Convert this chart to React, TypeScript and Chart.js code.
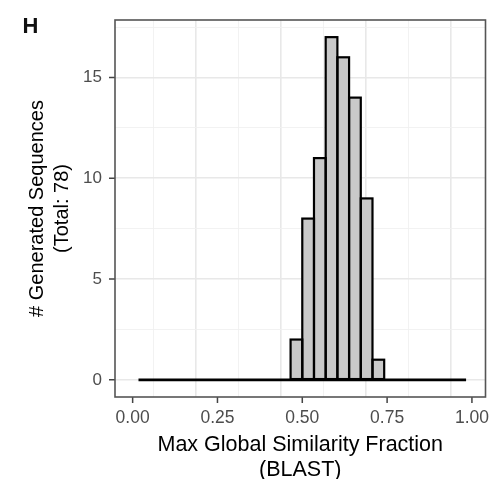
import React, { useEffect, useRef } from "react";
import { Chart, registerables } from "chart.js";

Chart.register(...registerables);

// Histogram bins (centres of the bins) and counts
const binCenters = [0.48276, 0.51724, 0.55172, 0.58621, 0.62069, 0.65517, 0.68966, 0.72414];
const binCounts = [2, 8, 11, 17, 16, 14, 9, 1];
// empty bins drawn as a flat line at zero
const zeroLineX = [0.01724, 0.98276];
const zeroLineY = [0, 0];

const xTickValues = [0, 0.25, 0.5, 0.75, 1];
const xTickLabels = ["0.00", "0.25", "0.50", "0.75", "1.00"];
const xMinorValues = [0.125, 0.375, 0.625, 0.875];
const yTickValues = [0, 5, 10, 15];
const yTickLabels = ["0", "5", "10", "15"];
const yMinorValues = [2.5, 7.5, 12.5, 17.5];

const FONT = "'Liberation Sans', Arial, sans-serif";

const near = (a: number, b: number) => Math.abs(a - b) < 1e-6;
const majorIndex = (vals: number[], v: number) => vals.findIndex((t) => near(t, v));

const panelPlugin = {
  id: "panelDecor",
  afterDatasetsDraw(chart: any) {
    const ctx = chart.ctx;
    const meta = chart.getDatasetMeta(1);
    ctx.save();
    ctx.strokeStyle = "#000000";
    ctx.lineWidth = 2.2;
    ctx.lineJoin = "miter";
    meta.data.forEach((el: any) => {
      const p = el.getProps(["x", "y", "base", "width"], true);
      ctx.strokeRect(p.x - p.width / 2, p.y, p.width, p.base - p.y);
    });
    ctx.restore();
  },
  afterDraw(chart: any) {
    const ctx = chart.ctx;
    const a = chart.chartArea;
    const xs = chart.scales.x;
    const ys = chart.scales.y;
    ctx.save();
    // tick marks
    ctx.strokeStyle = "#444444";
    ctx.lineWidth = 1.5;
    ctx.beginPath();
    xTickValues.forEach((v) => {
      const px = xs.getPixelForValue(v);
      ctx.moveTo(px, a.bottom);
      ctx.lineTo(px, a.bottom + 6);
    });
    yTickValues.forEach((v) => {
      const py = ys.getPixelForValue(v);
      ctx.moveTo(a.left - 6, py);
      ctx.lineTo(a.left, py);
    });
    ctx.stroke();
    // panel border
    ctx.strokeStyle = "#555555";
    ctx.lineWidth = 1.6;
    ctx.strokeRect(a.left, a.top, a.right - a.left, a.bottom - a.top);
    // panel tag
    ctx.fillStyle = "#111111";
    ctx.font = `bold 22px ${FONT}`;
    ctx.textAlign = "center";
    ctx.textBaseline = "alphabetic";
    ctx.fillText("H", 30.5, 32.5);
    ctx.restore();
  },
};

export default function App() {
  const ref = useRef<HTMLCanvasElement | null>(null);

  useEffect(() => {
    if (!ref.current) return;
    const chart = new Chart(ref.current, {
      type: "bar",
      data: {
        datasets: [
          {
            type: "line",
            data: zeroLineX.map((x, i) => ({ x, y: zeroLineY[i] })),
            borderColor: "#000000",
            borderWidth: 2.6,
            pointRadius: 0,
            order: 2,
          } as any,
          {
            type: "bar",
            data: binCenters.map((x, i) => ({ x, y: binCounts[i] })),
            backgroundColor: "#c9c9c9",
            borderWidth: 0,
            barPercentage: 1,
            categoryPercentage: 1,
            order: 1,
          },
        ],
      },
      options: {
        animation: false,
        responsive: false,
        layout: { padding: { left: 0, top: 20, right: 4.5, bottom: 0 } },
        plugins: { legend: { display: false }, tooltip: { enabled: false } },
        scales: {
          x: {
            type: "linear",
            bounds: "data",
            min: -0.052,
            max: 1.04,
            offset: false,
            afterBuildTicks: (axis: any) => {
              axis.ticks = [...xTickValues, ...xMinorValues].sort((p, q) => p - q).map((value) => ({ value }));
            },
            afterFit: (axis: any) => {
              axis.height = 82;
              axis.paddingLeft = 0;
              axis.paddingRight = 0;
            },
            border: { display: false },
            grid: {
              color: (c: any) => (c.tick && majorIndex(xTickValues, c.tick.value) >= 0 ? "#e8e8e8" : "#f1f1f1"),
              lineWidth: (c: any) => (c.tick && majorIndex(xTickValues, c.tick.value) >= 0 ? 1.6 : 0.9),
              drawTicks: false,
            },
            ticks: {
              autoSkip: false,
              maxRotation: 0,
              padding: 11,
              color: "#4d4d4d",
              font: { family: FONT, size: 17.5 },
              callback: (v: any) => {
                const i = majorIndex(xTickValues, Number(v));
                return i >= 0 ? xTickLabels[i] : "";
              },
            },
            title: {
              display: true,
              text: ["Max Global Similarity Fraction", "(BLAST)"],
              color: "#000000",
              font: { family: FONT, size: 21.5, lineHeight: "25px" },
              padding: { top: 0, bottom: -3.5 },
            },
          },
          y: {
            type: "linear",
            bounds: "data",
            min: -0.85,
            max: 17.85,
            afterBuildTicks: (axis: any) => {
              axis.ticks = [...yTickValues, ...yMinorValues].sort((p, q) => p - q).map((value) => ({ value }));
            },
            afterFit: (axis: any) => {
              axis.width = 115;
              axis.paddingTop = 0;
              axis.paddingBottom = 0;
            },
            border: { display: false },
            grid: {
              color: (c: any) => (c.tick && majorIndex(yTickValues, c.tick.value) >= 0 ? "#e8e8e8" : "#f1f1f1"),
              lineWidth: (c: any) => (c.tick && majorIndex(yTickValues, c.tick.value) >= 0 ? 1.6 : 0.9),
              drawTicks: false,
            },
            ticks: {
              autoSkip: false,
              padding: 13,
              color: "#4d4d4d",
              font: { family: FONT, size: 17 },
              callback: (v: any) => {
                const i = majorIndex(yTickValues, Number(v));
                return i >= 0 ? yTickLabels[i] : "";
              },
            },
            title: {
              display: true,
              text: ["# Generated Sequences", "(Total: 78)"],
              color: "#000000",
              font: { family: FONT, size: 20, lineHeight: "25px" },
              padding: { top: 24.5, bottom: 0 },
            },
          },
        },
      } as any,
      plugins: [panelPlugin],
    });
    return () => chart.destroy();
  }, []);

  return (
    <div style={{ position: "absolute", left: 0, top: 0, width: 490, height: 479, background: "#ffffff" }}>
      <canvas ref={ref} width={490} height={479} style={{ display: "block" }} />
    </div>
  );
}
